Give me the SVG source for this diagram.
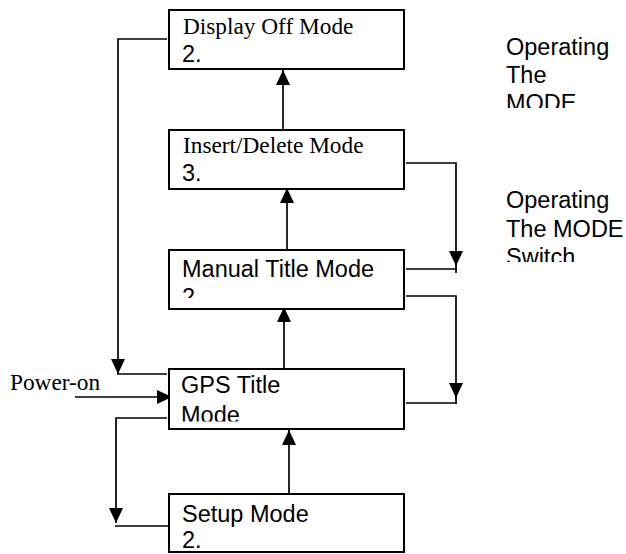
<svg xmlns="http://www.w3.org/2000/svg" width="626" height="554" viewBox="0 0 626 554">
<style>
.box{fill:#fff;stroke:#000;stroke-width:2}
.serif{font-family:"Liberation Serif","Times New Roman",serif;font-size:23.3px;fill:#000}
.sans{font-family:"Liberation Sans",Arial,sans-serif;font-size:23.5px;fill:#000}
.conn{fill:none;stroke:#000;stroke-width:1.7}
</style>
<defs>
<marker id="arr" viewBox="0 0 15 14" refX="15" refY="7" markerWidth="15" markerHeight="14" markerUnits="userSpaceOnUse" orient="auto">
<path d="M0,0 L15,7 L0,14 Z" fill="#000"/>
</marker>
<clipPath id="clipManual"><rect x="170" y="251" width="233" height="47"/></clipPath>
<clipPath id="clipGPS"><rect x="170" y="370" width="233" height="51.5"/></clipPath>
<clipPath id="clipR1"><rect x="490" y="20" width="136" height="88"/></clipPath>
<clipPath id="clipR2"><rect x="490" y="180" width="136" height="82"/></clipPath>
</defs>
<rect width="626" height="554" fill="#fff"/>
<g id="connectors" class="conn">
<path d="M283,130 V70" marker-end="url(#arr)"/>
<path d="M287,250 V188" marker-end="url(#arr)"/>
<path d="M284,369 V307" marker-end="url(#arr)"/>
<path d="M289,494 V430" marker-end="url(#arr)"/>
<path d="M406,163 H456 V266" marker-end="url(#arr)"/>
<path d="M456,264 V273"/>
<path d="M406,269 H457"/>
<path d="M406,296 H456 V398" marker-end="url(#arr)"/>
<path d="M456,396 V404"/>
<path d="M406,403 H457"/>
<path d="M167,39 H118 V374" marker-end="url(#arr)"/>
<path d="M117,374 H167"/>
<path d="M75,397 H172" marker-end="url(#arr)"/>
<path d="M167,418 H116 V523" marker-end="url(#arr)"/>
<path d="M115,526 H168"/>
</g>
<g id="display-off">
<rect class="box" x="169" y="10" width="235" height="59"/>
<text class="serif" x="183" y="34">Display Off Mode</text>
<text class="sans" x="182" y="62">2.</text>
</g>
<g id="insert-delete">
<rect class="box" x="169" y="130" width="235" height="59"/>
<text class="serif" x="183" y="153">Insert/Delete Mode</text>
<text class="sans" x="182" y="181">3.</text>
</g>
<g id="manual-title">
<rect class="box" x="169" y="250" width="235" height="59"/>
<g clip-path="url(#clipManual)">
<text class="sans" x="182" y="277">Manual Title Mode</text>
<text class="sans" x="182" y="305">2.</text>
</g>
</g>
<g id="gps-title">
<rect class="box" x="169" y="369" width="235" height="60"/>
<g clip-path="url(#clipGPS)">
<text class="sans" x="181" y="393">GPS Title</text>
<text class="sans" x="181" y="423">Mode</text>
</g>
</g>
<g id="setup">
<rect class="box" x="169" y="494" width="235" height="58"/>
<text class="sans" x="182" y="522">Setup Mode</text>
<text class="sans" x="182" y="548">2.</text>
</g>
<g id="power-on">
<text class="serif" x="10" y="390">Power-on</text>
</g>
<g id="label-1" clip-path="url(#clipR1)">
<text class="sans" x="506" y="55">Operating</text>
<text class="sans" x="506" y="83">The</text>
<text class="sans" x="506" y="111">MODE</text>
</g>
<g id="label-2" clip-path="url(#clipR2)">
<text class="sans" x="506" y="208">Operating</text>
<text class="sans" x="506" y="237">The MODE</text>
<text class="sans" x="506" y="265">Switch</text>
</g>
</svg>
